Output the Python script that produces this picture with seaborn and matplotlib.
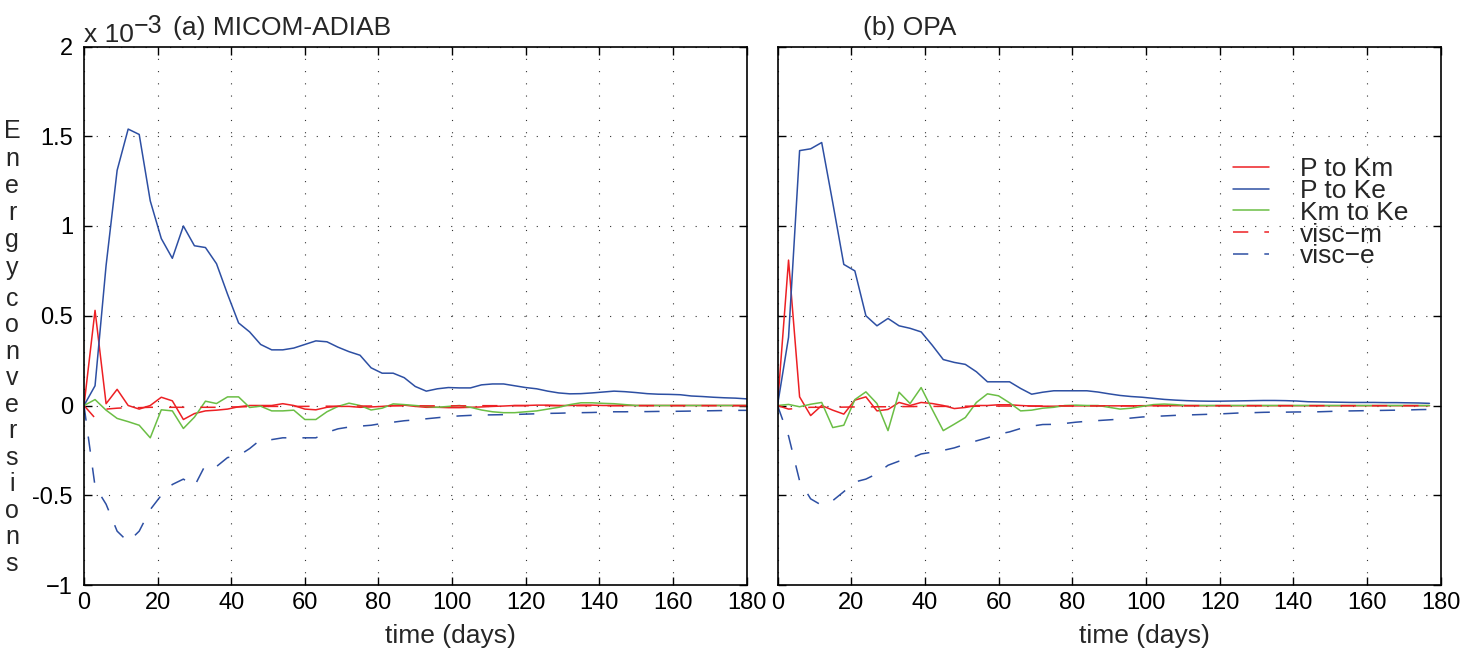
import numpy as np
import pandas as pd
import matplotlib
matplotlib.use("Agg")
import matplotlib.pyplot as plt
import seaborn as sns

# ---------------- data (values in units of 1e-3) ----------------
time_a = list(range(0, 181, 3))   # 61 samples, panel (a)
time_b = list(range(0, 178, 3))   # 60 samples, panel (b)

a_p_to_km = [0, 0.53, 0.01, 0.09, 0.0, -0.02, 0.0, 0.046, 0.026, -0.078,
             -0.045, -0.03, -0.026, -0.02, -0.007, 0.0, 0.0, 0.0, 0.01, 0.0,
             -0.02, -0.024, -0.01, -0.005, -0.005, -0.01, -0.008, -0.005, 0.0, 0.002,
             -0.005, -0.01, -0.01, -0.012, -0.012, -0.01, -0.008, -0.005, -0.003, 0.0,
             0.0, 0.002, 0.002, 0.0, 0.0, 0.002, 0.002, 0.0, 0.0, 0.0,
             0.0, 0.0, 0.0, 0.0, 0.0, 0.0, 0.0, 0.0, 0.0, 0.0, 0.0]
a_p_to_ke = [0, 0.11, 0.78, 1.31, 1.54, 1.51, 1.14, 0.93, 0.82, 1.00,
             0.89, 0.88, 0.79, 0.62, 0.46, 0.41, 0.34, 0.31, 0.31, 0.32,
             0.34, 0.36, 0.355, 0.325, 0.30, 0.28, 0.21, 0.18, 0.18, 0.155,
             0.106, 0.08, 0.093, 0.10, 0.098, 0.098, 0.115, 0.12, 0.12, 0.11,
             0.10, 0.093, 0.08, 0.07, 0.065, 0.066, 0.07, 0.075, 0.08, 0.077,
             0.072, 0.066, 0.063, 0.062, 0.06, 0.053, 0.05, 0.046, 0.043, 0.041, 0.037]
a_km_to_ke = [0, 0.033, -0.026, -0.072, -0.09, -0.11, -0.18, -0.024, -0.03, -0.128,
              -0.065, 0.024, 0.011, 0.048, 0.048, -0.011, -0.004, -0.03, -0.03, -0.026,
              -0.078, -0.078, -0.035, -0.005, 0.013, 0.0, -0.025, -0.015, 0.009, 0.005,
              0.0, -0.005, -0.01, -0.005, 0.0, -0.01, -0.025, -0.035, -0.04, -0.04,
              -0.035, -0.03, -0.02, -0.01, 0.005, 0.015, 0.015, 0.012, 0.01, 0.005,
              0.0, 0.0, 0.0, 0.0, 0.0, 0.0, 0.0, 0.0, 0.0, 0.0, 0.0]
a_visc_m = [0, -0.07, -0.02, -0.015, -0.012, -0.012, -0.01, -0.01, -0.01, -0.01,
            -0.01, -0.01, -0.01, -0.008, -0.008, -0.006, -0.005, -0.005, -0.005, -0.005,
            -0.005, -0.004, -0.004, -0.004, -0.003, -0.003, -0.003, -0.003, -0.002, -0.002,
            -0.002, -0.002, -0.002, -0.002, -0.002, -0.002, -0.001, -0.001, -0.001, -0.001,
            -0.001, -0.001, -0.001, -0.001, -0.001, -0.001, -0.001, -0.001, -0.001, -0.001,
            -0.001, -0.001, -0.001, -0.001, -0.001, -0.001, -0.001, -0.001, -0.001, -0.001, -0.001]
a_visc_e = [0, -0.45, -0.55, -0.70, -0.76, -0.70, -0.58, -0.50, -0.44, -0.41,
            -0.45, -0.33, -0.34, -0.29, -0.28, -0.24, -0.19, -0.19, -0.18, -0.18,
            -0.18, -0.18, -0.15, -0.13, -0.12, -0.115, -0.11, -0.10, -0.093, -0.085,
            -0.08, -0.074, -0.068, -0.062, -0.058, -0.055, -0.053, -0.052, -0.051, -0.05,
            -0.048, -0.046, -0.044, -0.043, -0.041, -0.04, -0.039, -0.037, -0.035, -0.035,
            -0.034, -0.034, -0.033, -0.033, -0.032, -0.031, -0.030, -0.029, -0.028, -0.027, -0.027]

b_p_to_km = [0, 0.81, 0.048, -0.056, 0.0, -0.026, -0.048, 0.03, 0.048, -0.03,
             -0.022, 0.017, 0.0, 0.017, 0.011, 0.0, -0.017, -0.011, 0.0, 0.0,
             0.004, 0.004, 0.0, -0.003, -0.004, -0.004, -0.003, -0.002, -0.002, -0.002,
             -0.002, -0.002, -0.002, -0.001, -0.001, -0.001, -0.001, -0.001, -0.001, -0.001,
             -0.001, -0.001, -0.001, -0.001, -0.001, -0.001, -0.001, -0.001, -0.001, -0.001,
             -0.001, -0.001, -0.001, -0.001, -0.001, -0.001, -0.001, -0.001, -0.001, -0.001]
b_p_to_ke = [0, 0.38, 1.42, 1.43, 1.465, 1.13, 0.786, 0.75, 0.50, 0.444,
             0.485, 0.444, 0.43, 0.41, 0.336, 0.256, 0.24, 0.229, 0.188, 0.132,
             0.132, 0.132, 0.095, 0.063, 0.074, 0.082, 0.082, 0.082, 0.082, 0.075,
             0.065, 0.056, 0.05, 0.046, 0.04, 0.034, 0.03, 0.027, 0.025, 0.024,
             0.024, 0.025, 0.026, 0.027, 0.028, 0.028, 0.027, 0.025, 0.021, 0.02,
             0.019, 0.018, 0.017, 0.017, 0.017, 0.016, 0.016, 0.015, 0.014, 0.012]
b_km_to_ke = [0, 0.006, -0.007, 0.007, 0.017, -0.123, -0.11, 0.033, 0.076, 0.011,
              -0.14, 0.074, 0.011, 0.1, -0.022, -0.14, -0.104, -0.067, 0.017, 0.065,
              0.054, 0.015, -0.03, -0.026, -0.015, -0.01, 0.0, 0.002, 0.0, 0.0,
              -0.01, -0.02, -0.015, -0.005, 0.005, 0.008, 0.005, 0.0, 0.0, 0.0,
              0.0, 0.0, 0.0, 0.0, 0.0, 0.0, 0.0, 0.0, 0.0, 0.0,
              0.0, 0.0, 0.0, 0.0, 0.0, 0.0, 0.0, 0.0, 0.0, 0.0]
b_visc_m = [0, -0.02, -0.015, -0.01, -0.01, -0.01, -0.009, -0.008, -0.008, -0.007,
            -0.007, -0.006, -0.006, -0.005, -0.005, -0.005, -0.004, -0.004, -0.004, -0.004,
            -0.003, -0.003, -0.003, -0.003, -0.003, -0.002, -0.002, -0.002, -0.002, -0.002,
            -0.002, -0.002, -0.002, -0.001, -0.001, -0.001, -0.001, -0.001, -0.001, -0.001,
            -0.001, -0.001, -0.001, -0.001, -0.001, -0.001, -0.001, -0.001, -0.001, -0.001,
            -0.001, -0.001, -0.001, -0.001, -0.001, -0.001, -0.001, -0.001, -0.001, -0.001]
b_visc_e = [0, -0.17, -0.42, -0.52, -0.556, -0.53, -0.48, -0.426, -0.41, -0.38,
            -0.333, -0.31, -0.295, -0.27, -0.26, -0.25, -0.236, -0.216, -0.197, -0.18,
            -0.16, -0.147, -0.128, -0.115, -0.106, -0.105, -0.1, -0.093, -0.088, -0.084,
            -0.08, -0.076, -0.07, -0.064, -0.061, -0.058, -0.055, -0.053, -0.051, -0.049,
            -0.047, -0.044, -0.041, -0.04, -0.038, -0.037, -0.037, -0.036, -0.036, -0.035,
            -0.033, -0.031, -0.03, -0.029, -0.028, -0.027, -0.026, -0.025, -0.023, -0.022]

series_labels = ["P to Km", "P to Ke", "Km to Ke", "visc\u2212m", "visc\u2212e"]
xticks = [0, 20, 40, 60, 80, 100, 120, 140, 160, 180]
yticks = [-1, -0.5, 0, 0.5, 1, 1.5, 2]
ytick_labels = ["\u22121", "-0.5", "0", "0.5", "1", "1.5", "2"]
titles = ["(a) MICOM-ADIAB", "(b) OPA"]
ylabel_words = ["Energy", "conversions"]
xlabel = "time (days)"

# ---------------- style ----------------
sns.set_style("white")
plt.rcParams["font.family"] = ["Liberation Sans", "DejaVu Sans"]

RED = "#ED2024"
BLUE = "#2D4FA3"
GREEN = "#6BBE45"
colors = [RED, BLUE, GREEN, RED, BLUE]
DASH = (0, (10, 10.5))
styles = ["-", "-", "-", DASH, DASH]

W, H = 1469, 655
fig = plt.figure(figsize=(W / 100, H / 100), dpi=100)

def px_box(x0, x1, ytop, ybot):
    return [x0 / W, 1 - ybot / H, (x1 - x0) / W, (ybot - ytop) / H]

ax_a = fig.add_axes(px_box(84, 746.5, 46.5, 585))
ax_b = fig.add_axes(px_box(777.5, 1440.5, 46.5, 585))

panels = [
    (ax_a, time_a, [a_p_to_km, a_p_to_ke, a_km_to_ke, a_visc_m, a_visc_e]),
    (ax_b, time_b, [b_p_to_km, b_p_to_ke, b_km_to_ke, b_visc_m, b_visc_e]),
]

for ax, t, ys in panels:
    for y, lab, c, ls in zip(ys, series_labels, colors, styles):
        df = pd.DataFrame({"t": t, "v": y})
        sns.lineplot(data=df, x="t", y="v", ax=ax, color=c, linestyle=ls,
                     linewidth=1.1, label=lab, legend=False)
    ax.set_xlim(0, 180)
    ax.set_ylim(-1, 2)
    ax.set_xticks(xticks)
    ax.set_yticks(yticks)
    ax.set_xticklabels([str(v) for v in xticks], fontsize=17)
    ax.grid(True, linestyle=(0, (1, 10)), color="#333333", linewidth=0.8)
    ax.set_axisbelow(True)
    ax.tick_params(direction="in", length=6, width=1, top=True, right=True,
                   bottom=True, left=True, pad=5, colors="black")
    for s in ax.spines.values():
        s.set_visible(True)
        s.set_color("black")
        s.set_linewidth(1.2)
    ax.set_ylabel("")
    ax.set_xlabel(xlabel, fontsize=19)
    ax.xaxis.set_label_coords(0.553, -0.072)

ax_a.set_yticklabels(ytick_labels, fontsize=17)
ax_a.tick_params(axis="y", pad=8)
ax_b.tick_params(axis="y", labelleft=False)

# legend in panel (b)
handles, labels = ax_b.get_legend_handles_labels()
ax_b.legend(handles, labels, loc="upper left", bbox_to_anchor=(0.687, 0.795),
            frameon=False, fontsize=19, handlelength=1.36, handletextpad=1.17,
            labelspacing=-0.08, borderpad=0, borderaxespad=0)

# titles and exponent
fig.text(84 / W, 1 - 42 / H, "x 10", fontsize=19, ha="left", va="baseline")
fig.text(134 / W, 1 - 33 / H, "\u22123", fontsize=18, ha="left", va="baseline")
fig.text(173 / W, 1 - 35 / H, titles[0], fontsize=19, ha="left", va="baseline")
fig.text(863 / W, 1 - 35 / H, titles[1], fontsize=19, ha="left", va="baseline")

# vertical stacked y-label
fig.text(12 / W, 1 - 119.5 / H, "\n".join(ylabel_words[0]), fontsize=18,
         ha="center", va="top", multialignment="center", linespacing=1.17)
fig.text(12 / W, 1 - 287 / H, "\n".join(ylabel_words[1]), fontsize=18,
         ha="center", va="top", multialignment="center", linespacing=1.13)

fig.savefig("out.png", dpi=100, facecolor="white")
